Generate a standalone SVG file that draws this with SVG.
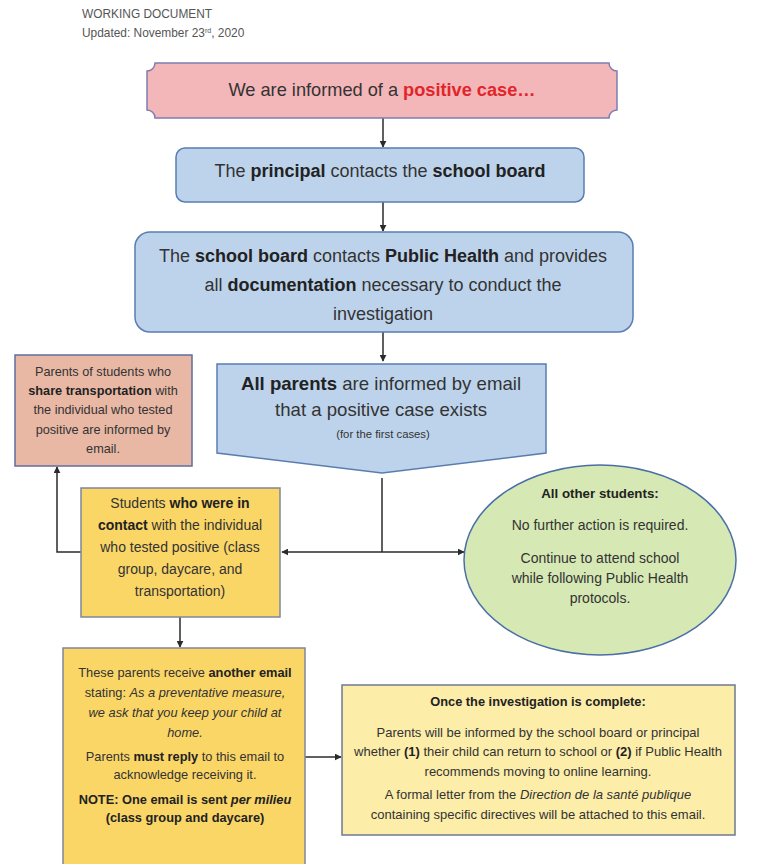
<svg xmlns="http://www.w3.org/2000/svg" width="761" height="864" viewBox="0 0 761 864">
<defs>
<marker id="ah" viewBox="0 0 10 10" refX="9" refY="5" markerWidth="7" markerHeight="7" orient="auto-start-reverse" markerUnits="userSpaceOnUse">
<path d="M0,0 L10,5 L0,10 z" fill="#2b2b2b"/>
</marker>
<style>
text{font-family:"Liberation Sans",Arial,sans-serif;fill:#333;}
.b{font-weight:bold;fill:#222;}
.i{font-style:italic;}
.bl{fill:#BDD3EC;stroke:#5A7DB0;stroke-width:1.5;}
.c{text-anchor:middle;}
.conn{stroke:#2b2b2b;stroke-width:1.5;fill:none;}
</style>
</defs>
<rect width="761" height="864" fill="#fff"/>
<g id="header">
<text x="82" y="18" font-size="11.9" style="fill:#555">WORKING DOCUMENT</text>
<text x="82" y="37" font-size="11.9" style="fill:#555">Updated: November 23<tspan font-size="7" dy="-4">rd</tspan><tspan dy="4">, 2020</tspan></text>
</g>
<g id="connectors">
<line class="conn" x1="383" y1="118" x2="383" y2="147" marker-end="url(#ah)"/>
<line class="conn" x1="383" y1="202" x2="383" y2="231" marker-end="url(#ah)"/>
<line class="conn" x1="383" y1="332" x2="383" y2="361" marker-end="url(#ah)"/>
<line class="conn" x1="382" y1="478" x2="382" y2="552"/>
<line class="conn" x1="382" y1="552" x2="282" y2="552" marker-end="url(#ah)"/>
<line class="conn" x1="382" y1="552" x2="464" y2="552" marker-end="url(#ah)"/>
<polyline class="conn" points="81,552 57,552 57,467" marker-end="url(#ah)"/>
<line class="conn" x1="180" y1="617" x2="180" y2="647" marker-end="url(#ah)"/>
<line class="conn" x1="305" y1="757" x2="341" y2="757" marker-end="url(#ah)"/>
</g>
<g id="n1">
<path d="M155,63 H609 A8,8 0 0 0 617,71 V110 A8,8 0 0 0 609,118 H155 A8,8 0 0 0 147,110 V71 A8,8 0 0 0 155,63 Z" fill="#F3B6B9" stroke="#7F7DB0" stroke-width="1.5"/>
<text class="c" x="382" y="96" font-size="18.2">We are informed of a <tspan class="b" style="fill:#E0262B">positive case…</tspan></text>
</g>
<g id="n2">
<rect class="bl" x="176" y="148" width="408" height="54" rx="9"/>
<text class="c" x="380" y="177" font-size="18">The <tspan class="b">principal</tspan> contacts the <tspan class="b">school board</tspan></text>
</g>
<g id="n3">
<rect class="bl" x="135" y="232" width="498" height="100" rx="15"/>
<text class="c" x="383" y="262" font-size="18">The <tspan class="b">school board</tspan> contacts <tspan class="b">Public Health</tspan> and provides</text>
<text class="c" x="383" y="291" font-size="18">all <tspan class="b">documentation</tspan> necessary to conduct the</text>
<text class="c" x="383" y="320" font-size="18">investigation</text>
</g>
<g id="n4">
<polygon class="bl" points="217,364 546,364 546,453 382,473 217,453"/>
<text class="c" x="381" y="390" font-size="18.6"><tspan class="b">All parents</tspan> are informed by email</text>
<text class="c" x="381" y="416" font-size="18.6">that a positive case exists</text>
<text class="c" x="383" y="438" font-size="11.3">(for the first cases)</text>
</g>
<g id="n5">
<rect x="15" y="355" width="177" height="111" fill="#E8B8A5" stroke="#5F6E9E" stroke-width="1.5"/>
<text class="c" x="103" y="376" font-size="12.7">Parents of students who</text>
<text class="c" x="103" y="395" font-size="12.7"><tspan class="b">share transportation</tspan> with</text>
<text class="c" x="103" y="414" font-size="12.7">the individual who tested</text>
<text class="c" x="103" y="434" font-size="12.7">positive are informed by</text>
<text class="c" x="103" y="453" font-size="12.7">email.</text>
</g>
<g id="n6">
<rect x="81" y="488" width="199" height="129" fill="#FAD667" stroke="#7D879C" stroke-width="1.5"/>
<text class="c" x="180" y="508" font-size="14">Students <tspan class="b">who were in</tspan></text>
<text class="c" x="180" y="530" font-size="14"><tspan class="b">contact</tspan> with the individual</text>
<text class="c" x="180" y="552" font-size="14">who tested positive (class</text>
<text class="c" x="180" y="574" font-size="14">group, daycare, and</text>
<text class="c" x="180" y="596" font-size="14">transportation)</text>
</g>
<g id="n7">
<ellipse cx="600" cy="560" rx="136" ry="95" fill="#D6E8B3" stroke="#4A6FA5" stroke-width="1.5"/>
<text class="c b" x="600" y="498" font-size="13.3">All other students:</text>
<text class="c" x="600" y="530" font-size="14">No further action is required.</text>
<text class="c" x="600" y="563" font-size="14">Continue to attend school</text>
<text class="c" x="600" y="583" font-size="14">while following Public Health</text>
<text class="c" x="600" y="603" font-size="14">protocols.</text>
</g>
<g id="n8">
<rect x="63" y="648" width="242" height="230" fill="#FAD667" stroke="#7D879C" stroke-width="1.5"/>
<text class="c" x="185" y="677" font-size="12.8">These parents receive <tspan class="b">another email</tspan></text>
<text class="c" x="185" y="697" font-size="12.8">stating: <tspan class="i">As a preventative measure,</tspan></text>
<text class="c i" x="185" y="717" font-size="12.8">we ask that you keep your child at</text>
<text class="c i" x="185" y="737" font-size="12.8">home.</text>
<text class="c" x="185" y="761" font-size="12.8">Parents <tspan class="b">must reply</tspan> to this email to</text>
<text class="c" x="185" y="779" font-size="12.8">acknowledge receiving it.</text>
<text class="c b" x="185" y="804" font-size="12.8">NOTE: One email is sent <tspan class="i">per milieu</tspan></text>
<text class="c b" x="185" y="822" font-size="12.8">(class group and daycare)</text>
</g>
<g id="n9">
<rect x="342" y="685" width="393" height="150" fill="#FCEDA9" stroke="#6E7A92" stroke-width="1.5"/>
<text class="c b" x="538" y="706" font-size="12.8">Once the investigation is complete:</text>
<text class="c" x="538" y="737" font-size="13">Parents will be informed by the school board or principal</text>
<text class="c" x="538" y="756" font-size="13">whether <tspan class="b">(1)</tspan> their child can return to school or <tspan class="b">(2)</tspan> if Public Health</text>
<text class="c" x="538" y="776" font-size="13">recommends moving to online learning.</text>
<text class="c" x="538" y="799" font-size="13">A formal letter from the <tspan class="i">Direction de la santé publique</tspan></text>
<text class="c" x="538" y="819" font-size="13">containing specific directives will be attached to this email.</text>
</g>
</svg>
